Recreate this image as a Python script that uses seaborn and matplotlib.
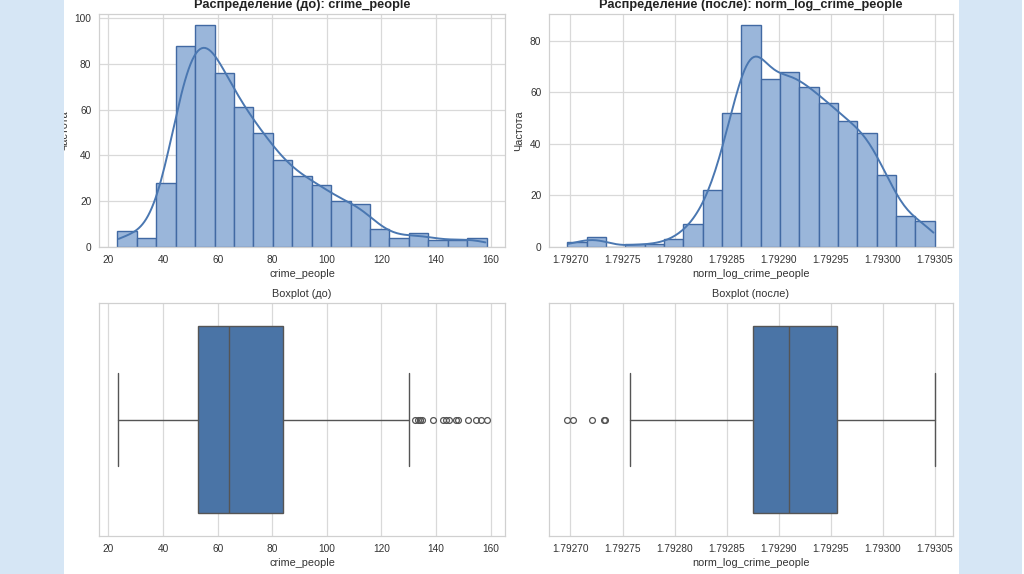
import numpy as np
import pandas as pd
import matplotlib
matplotlib.use("Agg")
import matplotlib.pyplot as plt
import matplotlib.ticker as mticker
from matplotlib.patches import Rectangle
import seaborn as sns

# ---------------- data ----------------
before_name = "crime_people"
after_name = "norm_log_crime_people"

# histogram bin ranges (first left edge, last right edge) and bin counts
before_range = (23.3, 158.5)
before_counts = [7, 4, 28, 88, 97, 76, 61, 50, 38, 31, 27, 20, 19, 8, 4, 6, 3, 3, 4]
after_range = (1.792697, 1.793050)
after_counts = [2, 4, 0, 1, 1, 3, 9, 22, 52, 86, 65, 68, 62, 56, 49, 44, 28, 12, 10]

# boxplot summary statistics
before_whislo, before_q1, before_med, before_q3, before_whishi = 23.4, 52.9, 64.1, 83.9, 130.2
before_fliers = [132.4, 133.4, 134.0, 134.3, 134.9, 139.0, 142.6, 143.7, 144.6,
                 147.3, 147.9, 151.7, 154.6, 156.6, 158.5]
after_whislo, after_q1, after_med, after_q3, after_whishi = 1.792757, 1.792875, 1.7929105, 1.792956, 1.793050
after_fliers = [1.792697, 1.792702, 1.792721, 1.792732, 1.792733]

titles_hist = ["Распределение (до): crime_people", "Распределение (после): norm_log_crime_people"]
titles_box = ["Boxplot (до)", "Boxplot (после)"]
ylabel = "Частота"

# ---------------- style ----------------
sns.set_theme(style="whitegrid")
plt.rcParams["font.family"] = ["Liberation Sans", "DejaVu Sans"]
plt.rcParams.update({
    "axes.edgecolor": "#d0d0d0",
    "grid.color": "#d9d9d9",
    "grid.linewidth": 0.9,
    "axes.linewidth": 0.9,
    "xtick.labelsize": 7.3,
    "ytick.labelsize": 7.3,
    "axes.labelsize": 7.8,
    "xtick.major.size": 0,
    "ytick.major.size": 0,
    "xtick.major.pad": 5.5,
    "ytick.major.pad": 5.5,
    "xtick.color": "#333333",
    "ytick.color": "#333333",
    "axes.labelcolor": "#333333",
})

LINE_BLUE = "#4a77b1"
FILL = "#9ab6da"
EDGE = "#4169a3"
BOX = "#4a74a6"
LINE = "#555555"

W, H = 1024, 574
fig = plt.figure(figsize=(W / 100, H / 100), dpi=100, facecolor="white")


def ax_at(left, top, right, bottom):
    return fig.add_axes([left / W, 1 - bottom / H, (right - left) / W, (bottom - top) / H])


ax_h1 = ax_at(99, 14, 505, 247)
ax_h2 = ax_at(549, 14, 953, 247)
ax_b1 = ax_at(99, 303, 505, 536)
ax_b2 = ax_at(549, 303, 953, 536)


def draw_hist(ax, name, rng, counts, title):
    edges = np.linspace(rng[0], rng[1], len(counts) + 1)
    centers = (edges[:-1] + edges[1:]) / 2
    df = pd.DataFrame({name: centers, "n": counts})
    sns.histplot(data=df, x=name, weights="n", bins=len(counts), binrange=rng, kde=True,
                 kde_kws=dict(bw_adjust=0.37, cut=0.38),
                 color=LINE_BLUE, facecolor=FILL, alpha=1.0, edgecolor=EDGE, linewidth=1.0,
                 line_kws=dict(linewidth=1.4), ax=ax)
    span = rng[1] - rng[0]
    ax.set_xlim(rng[0] - 0.05 * span, rng[1] + 0.05 * span)
    ax.set_title(title, fontsize=9.2, fontweight="bold", pad=4, color="#222222")
    ax.set_xlabel(name, labelpad=3)
    ax.set_ylabel(ylabel, labelpad=4)


def draw_box(ax, name, stats, fliers, title):
    whislo, q1, med, q3, whishi = stats
    ax.bxp([dict(whislo=whislo, q1=q1, med=med, q3=q3, whishi=whishi, fliers=fliers)],
           positions=[0], widths=0.8, capwidths=0.4, orientation="horizontal",
           patch_artist=True, manage_ticks=False,
           boxprops=dict(facecolor=BOX, edgecolor=LINE, linewidth=1.0),
           whiskerprops=dict(color=LINE, linewidth=1.0),
           capprops=dict(color=LINE, linewidth=1.0),
           medianprops=dict(color=LINE, linewidth=1.0),
           flierprops=dict(marker="o", markerfacecolor="none", markeredgecolor=LINE,
                           markersize=4.2, markeredgewidth=0.9, linestyle="none"))
    ax.set_ylim(0.5, -0.5)
    ax.set_yticks([])
    ax.yaxis.grid(False)
    ax.set_title(title, fontsize=7.8, pad=4, color="#333333")
    ax.set_xlabel(name, labelpad=3)
    ax.set_ylabel("")


draw_hist(ax_h1, before_name, before_range, before_counts, titles_hist[0])
draw_hist(ax_h2, after_name, after_range, after_counts, titles_hist[1])
draw_box(ax_b1, before_name, (before_whislo, before_q1, before_med, before_q3, before_whishi),
         before_fliers, titles_box[0])
draw_box(ax_b2, after_name, (after_whislo, after_q1, after_med, after_q3, after_whishi),
         after_fliers, titles_box[1])

# same x range for the pairs
ax_b1.set_xlim(ax_h1.get_xlim())
ax_b2.set_xlim(ax_h2.get_xlim())

fmt = mticker.FormatStrFormatter("%.5f")
for ax in (ax_h2, ax_b2):
    ax.xaxis.set_major_locator(mticker.MultipleLocator(0.00005))
    ax.xaxis.set_major_formatter(fmt)
for ax in (ax_h1, ax_b1):
    ax.xaxis.set_major_locator(mticker.MultipleLocator(20))
ax_h1.yaxis.set_major_locator(mticker.MultipleLocator(20))
ax_h2.yaxis.set_major_locator(mticker.MultipleLocator(20))

for ax in (ax_h1, ax_h2, ax_b1, ax_b2):
    for sp in ax.spines.values():
        sp.set_color("#d0d0d0")

# slide background strips around the screenshot
BLUE = "#d6e6f5"
fig.add_artist(Rectangle((0, 0), 64 / W, 1, transform=fig.transFigure,
                         facecolor=BLUE, edgecolor="none", zorder=10))
fig.add_artist(Rectangle((959 / W, 0), (1022 - 959) / W, 1, transform=fig.transFigure,
                         facecolor=BLUE, edgecolor="none", zorder=10))

fig.savefig("out.png", dpi=100, facecolor="white")
